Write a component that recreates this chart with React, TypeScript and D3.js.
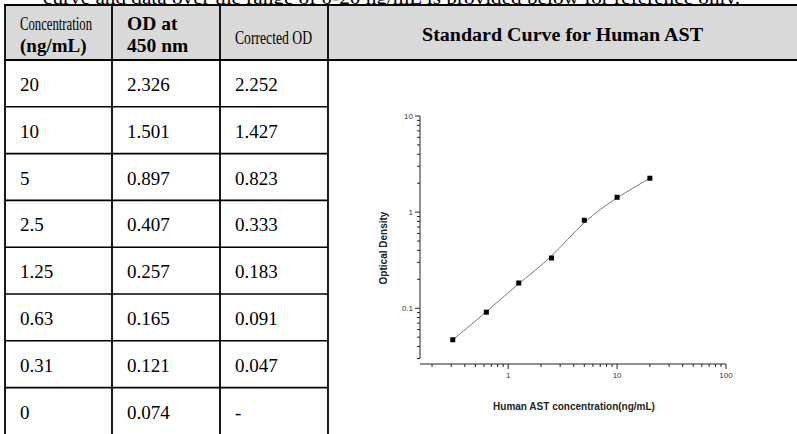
import React from "react";
import * as d3 from "d3";

const concLabels = ["20", "10", "5", "2.5", "1.25", "0.63", "0.31", "0"];
const odLabels = ["2.326", "1.501", "0.897", "0.407", "0.257", "0.165", "0.121", "0.074"];
const corrLabels = ["2.252", "1.427", "0.823", "0.333", "0.183", "0.091", "0.047", "-"];

const concValues = [0.31, 0.63, 1.25, 2.5, 5, 10, 20];
const corrValues = [0.047, 0.091, 0.183, 0.333, 0.823, 1.427, 2.252];

const yMajor = [0.1, 1, 10];
const yMajorLabels = ["0.1", "1", "10"];
const xMajor = [1, 10, 100];
const xMajorLabels = ["1", "10", "100"];

const W = 797;
const H = 434;
const serif = "'Liberation Serif', 'Times New Roman', serif";
const sans = "'Liberation Sans', Arial, sans-serif";

export default function App() {
  const x = d3.scaleLog().domain([0.155, 100]).range([420, 726]);
  const y = d3.scaleLog().domain([0.03, 10]).range([358.5, 116]);

  const yMinor: number[] = [];
  [0.01, 0.1, 1].forEach((d) => {
    for (let k = 2; k <= 9; k++) {
      const v = d * k;
      if (v >= 0.03 && v < 10) yMinor.push(v);
    }
  });
  const xMinor: number[] = [];
  [0.1, 1, 10].forEach((d) => {
    for (let k = 2; k <= 9; k++) {
      const v = d * k;
      if (v >= 0.155 && v < 100) xMinor.push(v);
    }
  });

  const pts = concValues.map((c, i) => [c, corrValues[i]] as [number, number]);
  const line = d3
    .line<[number, number]>()
    .x((d) => x(d[0]))
    .y((d) => y(d[1]))
    .curve(d3.curveBasis);

  const rowTop = 60;
  const rowH = 46.8;
  const colX = [5, 112, 220, 328];
  const textX = [20, 127, 235];
  const axisY = 364;
  const axisX = 420;

  return (
    <div style={{ position: "absolute", left: 0, top: 0 }}>
      <svg width={W} height={H} style={{ display: "block", background: "#fff" }}>
        <text x={43} y={3.5} fontFamily={serif} fontSize={19} textLength={697} lengthAdjust="spacingAndGlyphs" fill="#000">
          curve and data over the range of 0-20 ng/mL is provided below for reference only.
        </text>
        {/* header */}
        <rect x={5} y={5} width={W - 5} height={55} fill="#d9d9d9" />
        <line x1={4} x2={W} y1={5} y2={5} stroke="#000" strokeWidth={2} />
        <line x1={4} x2={W} y1={60} y2={60} stroke="#000" strokeWidth={2} />
        {d3.range(1, 8).map((i) => (
          <line key={"r" + i} x1={5} x2={328} y1={rowTop + i * rowH} y2={rowTop + i * rowH} stroke="#000" strokeWidth={1.6} />
        ))}
        {colX.map((cx, i) => (
          <line key={"c" + i} x1={cx} x2={cx} y1={4} y2={H} stroke="#000" strokeWidth={1.8} />
        ))}
        <text x={20} y={30} fontFamily={serif} fontSize={18} textLength={72} lengthAdjust="spacingAndGlyphs">Concentration</text>
        <text x={20} y={52} fontFamily={serif} fontSize={19} fontWeight="bold">(ng/mL)</text>
        <text x={127} y={30} fontFamily={serif} fontSize={19.5} fontWeight="bold">OD at</text>
        <text x={127} y={52} fontFamily={serif} fontSize={19.5} fontWeight="bold">450 nm</text>
        <text x={235} y={44} fontFamily={serif} fontSize={18} textLength={77} lengthAdjust="spacingAndGlyphs">Corrected OD</text>
        <text x={422} y={41} fontFamily={serif} fontSize={18} fontWeight="bold" textLength={281} lengthAdjust="spacingAndGlyphs">Standard Curve for Human AST</text>
        {/* body */}
        {concLabels.map((c, i) => {
          const by = rowTop + i * rowH + 31;
          return (
            <g key={"t" + i} fontFamily={serif} fontSize={19} fill="#000">
              <text x={textX[0]} y={by}>{c}</text>
              <text x={textX[1]} y={by}>{odLabels[i]}</text>
              <text x={textX[2]} y={by}>{corrLabels[i]}</text>
            </g>
          );
        })}
        {/* chart */}
        <g stroke="#222" strokeWidth={1}>
          <line x1={axisX} x2={axisX} y1={y(10)} y2={y(0.03)} />
          {yMajor.map((v) => (
            <line key={"ym" + v} x1={axisX - 5} x2={axisX} y1={y(v)} y2={y(v)} />
          ))}
          {yMinor.map((v) => (
            <line key={"yn" + v} x1={axisX - 3} x2={axisX} y1={y(v)} y2={y(v)} />
          ))}
          <line x1={axisX} x2={x(100)} y1={axisY} y2={axisY} />
          {xMajor.map((v) => (
            <line key={"xm" + v} x1={x(v)} x2={x(v)} y1={axisY} y2={axisY + 5} />
          ))}
          {xMinor.map((v) => (
            <line key={"xn" + v} x1={x(v)} x2={x(v)} y1={axisY} y2={axisY + 3} />
          ))}
        </g>
        {yMajor.map((v, i) => (
          <text key={"yl" + v} x={axisX - 7} y={y(v) + 3} textAnchor="end" fontFamily={sans} fontSize={8} fill="#333">
            {yMajorLabels[i]}
          </text>
        ))}
        {xMajor.map((v, i) => (
          <text key={"xl" + v} x={x(v)} y={378} textAnchor="middle" fontFamily={sans} fontSize={8} fill="#333">
            {xMajorLabels[i]}
          </text>
        ))}
        <text transform="translate(387,248) rotate(-90)" textAnchor="middle" fontFamily={sans} fontSize={10} fontWeight="bold" fill="#222">
          Optical Density
        </text>
        <text x={574} y={410} textAnchor="middle" fontFamily={sans} fontSize={10} fontWeight="bold" fill="#222">
          Human AST concentration(ng/mL)
        </text>
        <path d={line(pts) || ""} fill="none" stroke="#777" strokeWidth={1} />
        {pts.map((p, i) => (
          <rect key={"p" + i} x={x(p[0]) - 2.5} y={y(p[1]) - 2.5} width={5} height={5} fill="#000" />
        ))}
      </svg>
    </div>
  );
}
